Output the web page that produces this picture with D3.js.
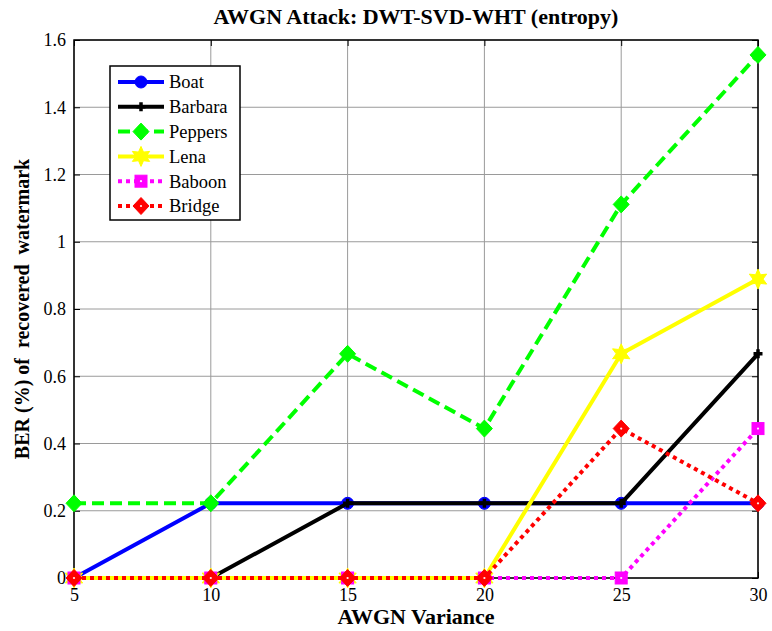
<!DOCTYPE html>
<html>
<head>
<meta charset="utf-8">
<script src="https://cdn.jsdelivr.net/npm/d3@7"></script>
<style>
  html, body { margin: 0; padding: 0; background: #fff; }
  svg { display: block; }
</style>
</head>
<body>
<svg id="chart" width="772" height="631"></svg>
<script>
// AWGN variance levels on the x axis
const variances = [5, 10, 15, 20, 25, 30];

// BER (%) of the recovered watermark, one array per test image
const boat    = [0, 0.2222, 0.2222, 0.2222, 0.2222, 0.2222];
const barbara = [0, 0, 0.2222, 0.2222, 0.2222, 0.6667];
const peppers = [0.2222, 0.2222, 0.6667, 0.4444, 1.1111, 1.5556];
const lena    = [0, 0, 0, 0, 0.6667, 0.8889];
const baboon  = [0, 0, 0, 0, 0, 0.4444];
const bridge  = [0, 0, 0, 0, 0.4444, 0.2222];

const seriesNames = ["Boat", "Barbara", "Peppers", "Lena", "Baboon", "Bridge"];
const seriesValues = [boat, barbara, peppers, lena, baboon, bridge];

const xTicks = [5, 10, 15, 20, 25, 30];
const yTicks = [0, 0.2, 0.4, 0.6, 0.8, 1, 1.2, 1.4, 1.6];

// Per-series appearance
const styles = [
  { color: "#0000ff", dash: null,   width: 4, marker: "circle" },
  { color: "#000000", dash: null,   width: 4, marker: "plus" },
  { color: "#00ff00", dash: "12,6", width: 4, marker: "diamond" },
  { color: "#ffff00", dash: null,   width: 4, marker: "hexagram" },
  { color: "#ff00ff", dash: "4,4",  width: 4, marker: "square" },
  { color: "#ff0000", dash: "4,4",  width: 4, marker: "diamond", dot: true }
];

const FONT = '"Liberation Serif", "Times New Roman", Times, "DejaVu Serif", serif';

const svg = d3.select("#chart");
const margin = { left: 74, right: 14, top: 40, bottom: 53 };
const W = 772, H = 631;
const x = d3.scaleLinear().domain([5, 30]).range([margin.left, W - margin.right]);
const y = d3.scaleLinear().domain([0, 1.6]).range([H - margin.bottom, margin.top]);
const x0 = x.range()[0], x1 = x.range()[1], y0 = y.range()[0], y1 = y.range()[1];

// Grid lines
const grid = svg.append("g").attr("stroke", "#9a9a9a").attr("stroke-width", 1);
xTicks.forEach(t => grid.append("line")
  .attr("x1", x(t)).attr("x2", x(t)).attr("y1", y1).attr("y2", y0));
yTicks.forEach(t => grid.append("line")
  .attr("x1", x0).attr("x2", x1).attr("y1", y(t)).attr("y2", y(t)));

// Axes with inward ticks
const fmtY = d => (d === 0 ? "0" : d3.format("~g")(d));
const axBottom = svg.append("g").attr("transform", `translate(0,${y0})`)
  .call(d3.axisBottom(x).tickValues(xTicks).tickSizeInner(-6).tickSizeOuter(0).tickPadding(10));
const axLeft = svg.append("g").attr("transform", `translate(${x0},0)`)
  .call(d3.axisLeft(y).tickValues(yTicks).tickFormat(fmtY).tickSizeInner(-6).tickSizeOuter(0).tickPadding(8));
const axTop = svg.append("g").attr("transform", `translate(0,${y1})`)
  .call(d3.axisTop(x).tickValues(xTicks).tickFormat("").tickSizeInner(-6).tickSizeOuter(0));
const axRight = svg.append("g").attr("transform", `translate(${x1},0)`)
  .call(d3.axisRight(y).tickValues(yTicks).tickFormat("").tickSizeInner(-6).tickSizeOuter(0));
[axBottom, axLeft, axTop, axRight].forEach(a => {
  a.select(".domain").remove();
  a.attr("font-family", null).attr("font-size", null);
  a.selectAll("line").attr("stroke", "#000");
  a.selectAll("text").style("font-family", FONT).style("font-size", "18px").attr("fill", "#000");
});
axBottom.selectAll("text").attr("dy", "0.71em");

// Axes box
svg.append("rect").attr("x", x0).attr("y", y1)
  .attr("width", x1 - x0).attr("height", y0 - y1)
  .attr("fill", "none").attr("stroke", "#000").attr("stroke-width", 1.5);

// Marker drawing
function hexagramPath(r) {
  const pts = [];
  for (let i = 0; i < 12; i++) {
    const a = -Math.PI / 2 + i * Math.PI / 6;
    const rr = i % 2 === 0 ? r : r * 0.5;
    pts.push([rr * Math.cos(a), rr * Math.sin(a)]);
  }
  return "M" + pts.map(p => p.join(",")).join("L") + "Z";
}
function drawMarker(g, s, cx, cy) {
  const color = s.color;
  const m = g.append("g").attr("transform", `translate(${cx},${cy})`);
  if (s.marker === "circle") {
    m.append("circle").attr("r", 6).attr("fill", color).attr("stroke", color).attr("stroke-width", 1);
  } else if (s.marker === "plus") {
    m.append("path").attr("d", "M-4.5,0H4.5M0,-4.5V4.5").attr("stroke", color).attr("stroke-width", 3.5);
  } else if (s.marker === "diamond") {
    m.append("path").attr("d", "M0,-8.5L8,0L0,8.5L-8,0Z").attr("fill", color).attr("stroke", color).attr("stroke-width", 1);
    if (s.dot) m.append("circle").attr("r", 1.1).attr("fill", "#ffeeee");
  } else if (s.marker === "square") {
    m.append("rect").attr("x", -6).attr("y", -6).attr("width", 12).attr("height", 12)
      .attr("fill", color).attr("stroke", color).attr("stroke-width", 1);
    m.append("circle").attr("r", 1.1).attr("fill", "#ffeeff");
  } else if (s.marker === "hexagram") {
    m.append("path").attr("d", hexagramPath(10)).attr("fill", color).attr("stroke", color).attr("stroke-width", 1);
  }
}

// Series lines and markers
const line = d3.line().x((d, i) => x(variances[i])).y(d => y(d));
const plot = svg.append("g");
seriesValues.forEach((vals, si) => {
  const s = styles[si];
  const g = plot.append("g");
  g.append("path").datum(vals).attr("d", line)
    .attr("fill", "none").attr("stroke", s.color).attr("stroke-width", s.width)
    .attr("stroke-dasharray", s.dash).attr("stroke-linejoin", "round");
  vals.forEach((v, i) => drawMarker(g, s, x(variances[i]), y(v)));
});

// Legend
const leg = svg.append("g");
leg.append("rect").attr("x", 110).attr("y", 66).attr("width", 130).attr("height", 154)
  .attr("fill", "#fff").attr("stroke", "#000").attr("stroke-width", 1.5);
seriesNames.forEach((name, i) => {
  const s = styles[i];
  const ly = 82 + i * 24.8;
  leg.append("line").attr("x1", 118).attr("x2", 164).attr("y1", ly).attr("y2", ly)
    .attr("stroke", s.color).attr("stroke-width", s.width).attr("stroke-dasharray", s.dash);
  drawMarker(leg, s, 141, ly);
  leg.append("text").attr("x", 169).attr("y", ly).attr("dy", "0.35em")
    .style("font-family", FONT).style("font-size", "18.5px").text(name);
});

// Title and axis labels
svg.append("text").attr("x", (x0 + x1) / 2).attr("y", 24).attr("text-anchor", "middle")
  .style("font-family", FONT).style("font-size", "22px").style("font-weight", "bold")
  .text("AWGN Attack: DWT-SVD-WHT (entropy)");
svg.append("text").attr("x", (x0 + x1) / 2).attr("y", 624).attr("text-anchor", "middle")
  .style("font-family", FONT).style("font-size", "22px").style("font-weight", "bold")
  .text("AWGN Variance");
svg.append("text").attr("transform", `translate(29,${(y0 + y1) / 2}) rotate(-90)`)
  .attr("text-anchor", "middle")
  .style("font-family", FONT).style("font-size", "20px").style("font-weight", "bold")
  .style("white-space", "pre")
  .text("BER (%) of  recovered  watermark");
</script>
</body>
</html>
